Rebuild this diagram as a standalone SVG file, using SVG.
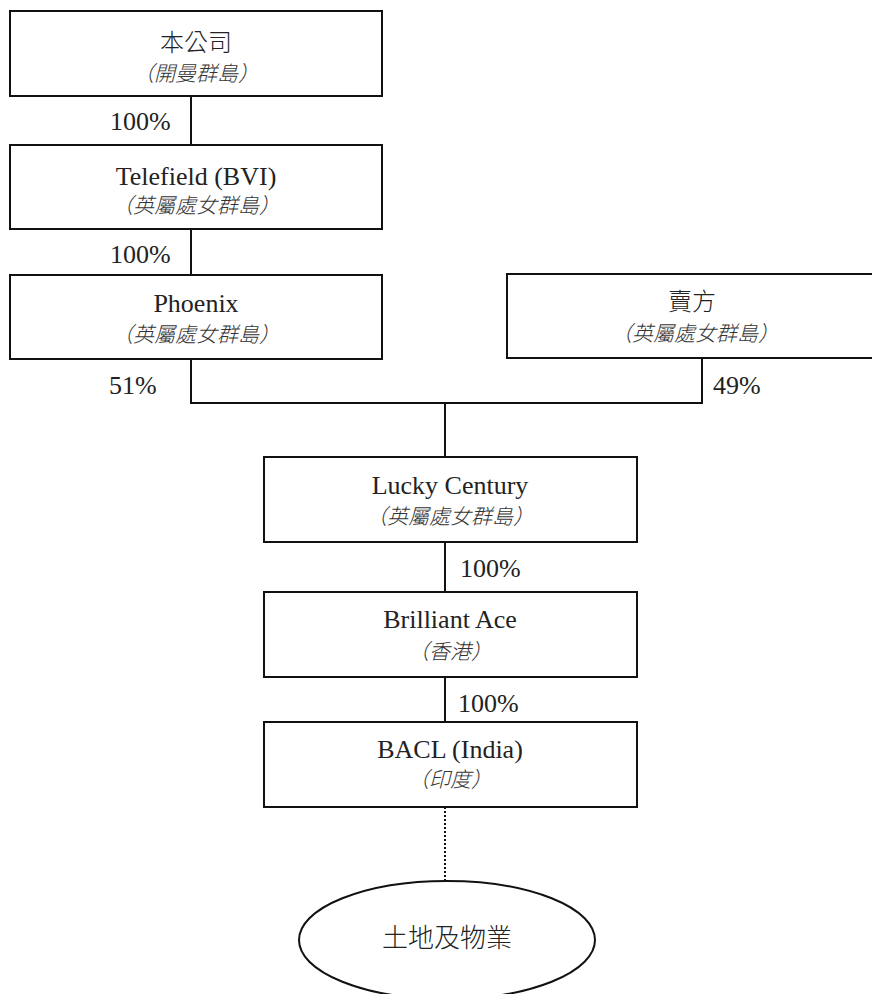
<svg xmlns="http://www.w3.org/2000/svg" width="872" height="994" viewBox="0 0 872 994">
<style>
.box{fill:#fff;stroke:#111;stroke-width:2}
.ln{fill:none;stroke:#111;stroke-width:2}
.dot{fill:none;stroke:#111;stroke-width:2;stroke-dasharray:2 2}
.t{font-family:"Liberation Serif","Noto Sans CJK TC",serif;font-size:26px;fill:#222;text-anchor:middle}
.c{font-family:"Noto Sans CJK TC","Liberation Serif",sans-serif;font-size:24px;fill:#222;text-anchor:middle;font-weight:300}
.i{font-family:"Noto Sans CJK TC","Liberation Serif",sans-serif;font-size:21px;fill:#333;text-anchor:middle;font-style:italic;font-weight:300}
.p{font-family:"Liberation Serif",serif;font-size:26px;fill:#222}
</style>
<rect width="872" height="994" fill="#fff"/>
<g id="connectors">
<line class="ln" x1="191" y1="96" x2="191" y2="145"/>
<line class="ln" x1="191" y1="229" x2="191" y2="275"/>
<polyline class="ln" points="191,359 191,403 702,403 702,358"/>
<line class="ln" x1="445" y1="403" x2="445" y2="457"/>
<line class="ln" x1="445" y1="542" x2="445" y2="592"/>
<line class="ln" x1="445" y1="677" x2="445" y2="722"/>
<line class="dot" x1="445" y1="807" x2="445" y2="881"/>
<text class="p" x="110" y="130">100%</text>
<text class="p" x="110" y="263">100%</text>
<text class="p" x="109" y="394">51%</text>
<text class="p" x="713" y="394">49%</text>
<text class="p" x="460" y="577">100%</text>
<text class="p" x="458" y="712">100%</text>
</g>
<g id="company">
<rect class="box" x="10" y="11" width="372" height="85"/>
<text class="c" x="196" y="51">本公司</text>
<text class="i" x="196" y="81">（開曼群島）</text>
</g>
<g id="telefield">
<rect class="box" x="10" y="145" width="372" height="84"/>
<text class="t" x="196" y="185">Telefield (BVI)</text>
<text class="i" x="196" y="213">（英屬處女群島）</text>
</g>
<g id="phoenix">
<rect class="box" x="10" y="275" width="372" height="84"/>
<text class="t" x="196" y="312">Phoenix</text>
<text class="i" x="196" y="342">（英屬處女群島）</text>
</g>
<g id="vendor">
<rect class="box" x="507" y="274" width="376" height="84"/>
<text class="c" x="692" y="310">賣方</text>
<text class="i" x="695" y="341">（英屬處女群島）</text>
</g>
<g id="lucky-century">
<rect class="box" x="264" y="457" width="373" height="85"/>
<text class="t" x="450" y="494">Lucky Century</text>
<text class="i" x="450" y="524">（英屬處女群島）</text>
</g>
<g id="brilliant-ace">
<rect class="box" x="264" y="592" width="373" height="85"/>
<text class="t" x="450" y="628">Brilliant Ace</text>
<text class="i" x="450" y="659">（香港）</text>
</g>
<g id="bacl">
<rect class="box" x="264" y="722" width="373" height="85"/>
<text class="t" x="450" y="758">BACL (India)</text>
<text class="i" x="450" y="787">（印度）</text>
</g>
<g id="land">
<ellipse class="box" cx="447" cy="940" rx="148" ry="59"/>
<text class="c" x="447" y="947" style="font-size:26px">土地及物業</text>
</g>
</svg>
